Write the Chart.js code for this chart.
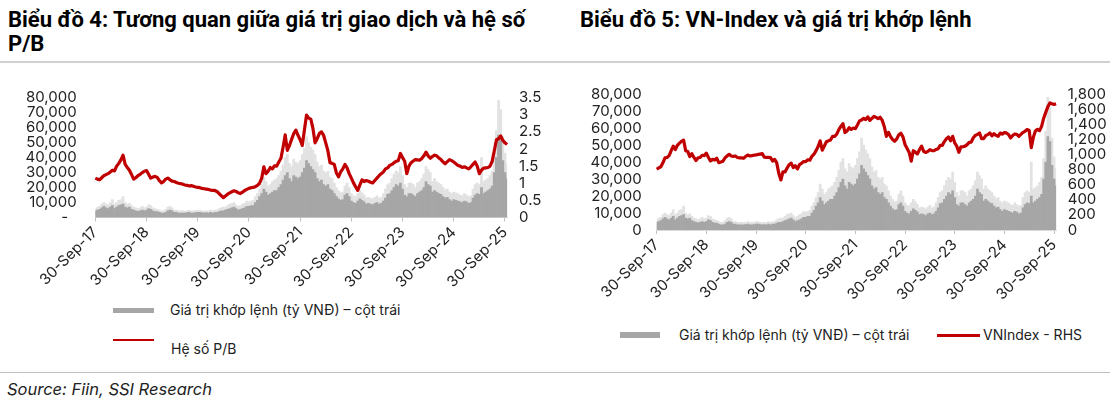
<!DOCTYPE html>
<html>
<head>
<meta charset="utf-8">
<script src="https://cdn.jsdelivr.net/npm/chart.js@4.4.1/dist/chart.umd.min.js"></script>
<style>
  body { margin: 0; background: #fff; }
  #page { position: relative; width: 1110px; height: 399px; overflow: hidden; font-family: Inter, "Noto Sans", sans-serif; color: #222; }
  .title { position: absolute; top: 8px; font: 700 22px/24px Roboto, sans-serif; color: #000; }
  .rule { position: absolute; left: 0; width: 1110px; height: 0; }
  .chart { position: absolute; top: 70px; }
  .leg { position: absolute; font-size: 14px; line-height: 16px; white-space: nowrap; color: #222; }
  .swatch { position: absolute; }
  .source { position: absolute; left: 7px; top: 379px; font: italic 16.5px/20px Inter, sans-serif; color: #222; }
</style>
</head>
<body>
<div id="page">
  <div class="title" style="left:8px; width:530px;">Biểu đồ 4: Tương quan giữa giá trị giao dịch và hệ số P/B</div>
  <div class="title" style="left:580px;">Biểu đồ 5: VN-Index và giá trị khớp lệnh</div>
  <div class="rule" style="top:61px; border-top:2px solid #d0d0d0;"></div>

  <div class="chart" style="left:0; width:560px; height:230px;"><canvas id="pbChart" width="560" height="230"></canvas></div>
  <div class="chart" style="left:560px; width:550px; height:240px;"><canvas id="vniChart" width="550" height="240"></canvas></div>

  <!-- legend, chart 4 -->
  <div class="swatch" style="left:113px; top:308px; width:41px; height:5px; background:#a6a6a6;"></div>
  <div class="leg" style="left:170px; top:302px;">Giá trị khớp lệnh (tỷ VNĐ) – cột trái</div>
  <div class="swatch" style="left:113px; top:339px; width:41px; height:2px; background:#c00000;"></div>
  <div class="leg" style="left:171px; top:341px;">Hệ số P/B</div>

  <!-- legend, chart 5 -->
  <div class="swatch" style="left:620px; top:332px; width:40px; height:6px; background:#a6a6a6;"></div>
  <div class="leg" style="left:679px; top:327px;">Giá trị khớp lệnh (tỷ VNĐ) – cột trái</div>
  <div class="swatch" style="left:937px; top:334px; width:43px; height:3px; background:#c00000;"></div>
  <div class="leg" style="left:983px; top:327px;">VNIndex - RHS</div>

  <div class="rule" style="top:372px; border-top:1px solid #bdbdbd;"></div>
  <div class="source">Source: Fiin, SSI Research</div>
</div>

<script>
// half-month dates, 30-Sep-17 .. 15-Oct-25
var MONTHS = ['Jan', 'Feb', 'Mar', 'Apr', 'May', 'Jun', 'Jul', 'Aug', 'Sep', 'Oct', 'Nov', 'Dec'];
var dates = ['30-Sep-17'];
for (var k = 0; dates.length < 194; k++) {
    var m = (9 + k) % 12;
    var yy = 17 + Math.floor((9 + k) / 12);
    dates.push('15-' + MONTHS[m] + '-' + yy);
    if (dates.length < 194) {
        var last = new Date(2000 + yy, m + 1, 0).getDate();
        dates.push(last + '-' + MONTHS[m] + '-' + yy);
    }
}

// Giá trị khớp lệnh (tỷ VNĐ), typical level of each half month
var turnover = [
    4500, 5000, 5500, 6500, 7500, 6500, 6000, 7000, 8000, 6000, 7000, 8000, 8500, 9000, 7000, 6500, 7000, 5500, 5000, 4500, 4200, 4500, 5000, 4500,
    5000, 6000, 5500, 4500, 4000, 4000, 3500, 3000, 3000, 3500, 4500, 5000, 4500, 3500, 3500, 3000, 3000, 3000, 3000, 3200, 3500, 3000, 3000, 3200,
    3500, 3500, 3200, 3000, 3200, 3000, 3500, 3000, 3500, 3500, 4000, 4500, 4500, 5000, 5500, 6000, 6500, 7000, 6000, 5000, 5500, 6000, 6500, 7500,
    7500, 8000, 8000, 10000, 11500, 14000, 16000, 19000, 17000, 15000, 16000, 17000, 18000, 18000, 20000, 22000, 25000, 28000, 30000, 26000, 24000, 28000, 27000, 26000,
    27000, 30000, 33000, 38000, 36000, 34000, 32000, 30000, 26000, 24000, 25000, 22000, 21000, 22000, 19000, 18000, 16000, 14000, 12500, 11500, 12000, 15000, 16000, 14000,
    11000, 10000, 9500, 11000, 12500, 11500, 10500, 9000, 9500, 9000, 8500, 9500, 10000, 9000, 9500, 11000, 13000, 15500, 16000, 18000, 20000, 22000, 21000, 23000,
    19000, 15000, 14000, 16000, 16000, 15000, 14000, 16000, 17000, 18000, 20000, 24000, 22000, 21000, 17000, 18000, 17000, 16000, 15500, 14000, 13000, 13500, 12000, 11000,
    12000, 11500, 11000, 10500, 10000, 11000, 10500, 9500, 10000, 13000, 15000, 16000, 15500, 20000, 16000, 17000, 18000, 19000, 21000, 30000, 40000, 55000, 52000, 38000, 30000, 26000
];

// highest session of each half month (the light grey spikes)
var turnoverPeak = [
    6000, 7000, 7500, 9000, 10000, 9000, 8500, 10000, 12000, 9000, 10000, 11500, 12000, 14000, 10000, 9000, 9500, 8000, 7000, 6500, 6000, 6500, 7500, 6500,
    7000, 8500, 8000, 6500, 6000, 5500, 5000, 4500, 4500, 5500, 7000, 7500, 6500, 5000, 5000, 4500, 4500, 4500, 4300, 4500, 5000, 4500, 4500, 4500,
    5000, 5000, 4500, 4300, 4500, 4300, 5000, 4500, 5000, 5000, 6000, 6500, 7000, 7000, 8000, 9000, 9500, 10000, 8500, 7500, 8000, 9000, 9500, 11000,
    10500, 11000, 11500, 14000, 16000, 19000, 22000, 27000, 24000, 21000, 22000, 24000, 25000, 26000, 28000, 31000, 35000, 40000, 42000, 36000, 34000, 39000, 37000, 36000,
    38000, 42000, 46000, 54000, 50000, 47000, 45000, 42000, 37000, 34000, 35000, 31000, 30000, 31000, 27000, 26000, 23000, 20000, 18000, 16500, 17000, 21000, 23000, 20000,
    16000, 14500, 14000, 16000, 18000, 16500, 15000, 13000, 13500, 13000, 12500, 13500, 14500, 13000, 13500, 16000, 19000, 22000, 23000, 26000, 29000, 31000, 30000, 34000,
    28000, 22000, 20000, 23000, 23000, 22000, 20000, 23000, 24000, 26000, 29000, 34000, 32000, 30000, 24000, 26000, 24000, 23000, 22000, 20000, 18500, 19000, 17000, 16000,
    17000, 16500, 16000, 15000, 14500, 16000, 15000, 14000, 14500, 19000, 22000, 23000, 22000, 40000, 24000, 25000, 26000, 28000, 31000, 42000, 58000, 78000, 72000, 54000, 43000, 36000
];

// Hệ số P/B
var pb = [
    1.15, 1.12, 1.10, 1.16, 1.22, 1.25, 1.28, 1.33, 1.38, 1.36, 1.50, 1.58, 1.68, 1.82, 1.55, 1.46, 1.38, 1.25, 1.12, 1.16, 1.22, 1.26, 1.31, 1.35,
    1.37, 1.26, 1.15, 1.18, 1.20, 1.17, 1.08, 1.01, 1.05, 1.12, 1.15, 1.10, 1.06, 1.05, 1.02, 1.00, 0.99, 0.97, 0.95, 0.94, 0.92, 0.93, 0.91, 0.89,
    0.88, 0.87, 0.85, 0.84, 0.83, 0.82, 0.80, 0.79, 0.79, 0.76, 0.70, 0.64, 0.58, 0.63, 0.68, 0.72, 0.75, 0.78, 0.76, 0.72, 0.70, 0.74, 0.79, 0.82,
    0.85, 0.87, 0.88, 0.90, 0.94, 1.00, 1.15, 1.48, 1.28, 1.35, 1.46, 1.42, 1.51, 1.50, 1.62, 1.73, 2.05, 2.41, 1.96, 2.10, 2.28, 2.45, 2.55, 2.40,
    2.27, 2.10, 2.55, 2.99, 2.90, 2.87, 2.60, 2.18, 2.30, 2.45, 2.50, 2.40, 2.18, 1.95, 1.60, 1.58, 1.55, 1.30, 1.19, 1.33, 1.42, 1.55, 1.45, 1.28,
    1.15, 1.01, 0.90, 0.79, 0.95, 1.10, 1.05, 1.08, 1.06, 1.03, 1.01, 1.08, 1.15, 1.22, 1.28, 1.33, 1.42, 1.45, 1.52, 1.55, 1.60, 1.64, 1.66, 1.87,
    1.75, 1.64, 1.28, 1.50, 1.60, 1.65, 1.69, 1.68, 1.67, 1.72, 1.80, 1.91, 1.80, 1.73, 1.78, 1.82, 1.80, 1.74, 1.69, 1.62, 1.57, 1.63, 1.69, 1.66,
    1.62, 1.57, 1.52, 1.50, 1.46, 1.48, 1.45, 1.42, 1.48, 1.55, 1.62, 1.50, 1.28, 1.38, 1.44, 1.45, 1.46, 1.50, 1.64, 1.95, 2.27, 2.30, 2.38, 2.25, 2.18, 2.13
];

// VNIndex
var vnindex = [
    804, 822, 837, 890, 955, 960, 984, 1050, 1110, 1065, 1121, 1150, 1174, 1190, 1050, 1040, 970, 1010, 960, 920, 956, 960, 989, 985,
    1017, 960, 914, 935, 926, 950, 892, 900, 910, 955, 980, 1002, 980, 975, 980, 960, 955, 955, 949, 975, 992, 980, 984, 990,
    994, 1000, 1005, 1010, 965, 960, 961, 958, 913, 935, 889, 750, 662, 770, 768, 820, 864, 885, 825, 850, 808, 865, 883, 905,
    905, 930, 925, 975, 1003, 1050, 1104, 1180, 1056, 1110, 1168, 1180, 1191, 1240, 1239, 1268, 1328, 1370, 1408, 1290, 1310, 1355, 1331, 1350,
    1342, 1390, 1444, 1456, 1478, 1460, 1498, 1450, 1478, 1505, 1490, 1475, 1492, 1450, 1367, 1240, 1293, 1235, 1197, 1175, 1206, 1260, 1280, 1232,
    1132, 1080, 1027, 911, 1049, 1030, 1007, 1065, 1111, 1040, 1026, 1040, 1064, 1050, 1049, 1066, 1075, 1120, 1120, 1170, 1207, 1230, 1180, 1240,
    1154, 1110, 1028, 1100, 1102, 1110, 1130, 1160, 1164, 1220, 1252, 1265, 1284, 1210, 1210, 1250, 1262, 1285, 1245, 1275, 1252, 1240, 1283, 1270,
    1288, 1285, 1264, 1220, 1250, 1270, 1267, 1240, 1265, 1292, 1306, 1330, 1317, 1090, 1226, 1310, 1332, 1315, 1371, 1480, 1557, 1630, 1682, 1670, 1661, 1670
];

var turnoverLabel = 'Giá trị khớp lệnh (tỷ VNĐ) – cột trái';
var GREY = '#a6a6a6';
var LIGHT_GREY = '#e2e2e2';
var RED = '#c00000';

Chart.defaults.font.family = 'Inter, "Noto Sans", sans-serif';
Chart.defaults.font.size = 15;
Chart.defaults.color = '#222';

function fmt(v) {
    return Number(v).toLocaleString('en-US');
}

// one combo chart: turnover columns on the left axis, a red line on the right axis
function makeChart(id, line, box) {
    return new Chart(document.getElementById(id), {
        data: {
            labels: dates,
            datasets: [{
                type: 'line',
                label: line.label,
                data: line.data,
                yAxisID: 'y1',
                borderColor: RED,
                borderWidth: 3.2,
                borderJoinStyle: 'round',
                pointRadius: 0,
                tension: 0,
                order: 0
            }, {
                type: 'bar',
                label: turnoverLabel,
                data: turnover,
                yAxisID: 'y',
                backgroundColor: GREY,
                borderWidth: 0,
                grouped: false,
                barPercentage: 1,
                categoryPercentage: 1,
                order: 1
            }, {
                type: 'bar',
                label: 'peak',
                data: turnoverPeak,
                yAxisID: 'y',
                backgroundColor: LIGHT_GREY,
                borderWidth: 0,
                grouped: false,
                barPercentage: 1,
                categoryPercentage: 1,
                order: 2
            }]
        },
        options: {
            responsive: false,
            animation: false,
            layout: { padding: { top: box.top, right: 0, bottom: 0, left: 0 } },
            plugins: { legend: { display: false }, tooltip: { enabled: false } },
            scales: {
                x: {
                    type: 'category',
                    offset: false,
                    grid: {
                        offset: false,
                        drawOnChartArea: false,
                        tickLength: 4,
                        color: function(ctx) { return ctx.tick && ctx.tick.label ? '#bfbfbf' : 'rgba(0,0,0,0)'; }
                    },
                    border: { color: '#d9d9d9' },
                    ticks: {
                        autoSkip: false,
                        minRotation: 45,
                        maxRotation: 45,
                        padding: 2,
                        callback: function(v, i) { return dates[i].indexOf('30-Sep') === 0 ? dates[i] : ''; }
                    },
                    afterFit: function(s) { s.height = box.xHeight; }
                },
                y: {
                    position: 'left',
                    min: 0,
                    max: 80000,
                    grid: { display: false, drawTicks: false },
                    border: { display: false },
                    ticks: { autoSkip: false, stepSize: 10000, padding: box.leftPad, callback: line.leftTick },
                    afterFit: function(s) { s.width = box.left; }
                },
                y1: {
                    position: 'right',
                    min: 0,
                    max: line.max,
                    grid: { display: false, drawTicks: false },
                    border: { display: false },
                    ticks: { autoSkip: false, stepSize: line.step, padding: box.rightPad, callback: function(v) { return fmt(v); } },
                    afterFit: function(s) { s.width = box.right; }
                }
            }
        }
    });
}

makeChart('pbChart', {
    label: 'Hệ số P/B',
    data: pb,
    max: 3.5,
    step: 0.5,
    leftTick: function(v) { return v === 0 ? '-  ' : fmt(v); }
}, { top: 18, xHeight: 82.5, left: 95.3, leftPad: 18.6, right: 52.9, rightPad: 12 });

makeChart('vniChart', {
    label: 'VNIndex - RHS',
    data: vnindex,
    max: 1800,
    step: 200,
    leftTick: function(v) { return fmt(v); }
}, { top: 23.3, xHeight: 80, left: 96.7, leftPad: 15, right: 53.9, rightPad: 11.6 });
</script>
</body>
</html>
